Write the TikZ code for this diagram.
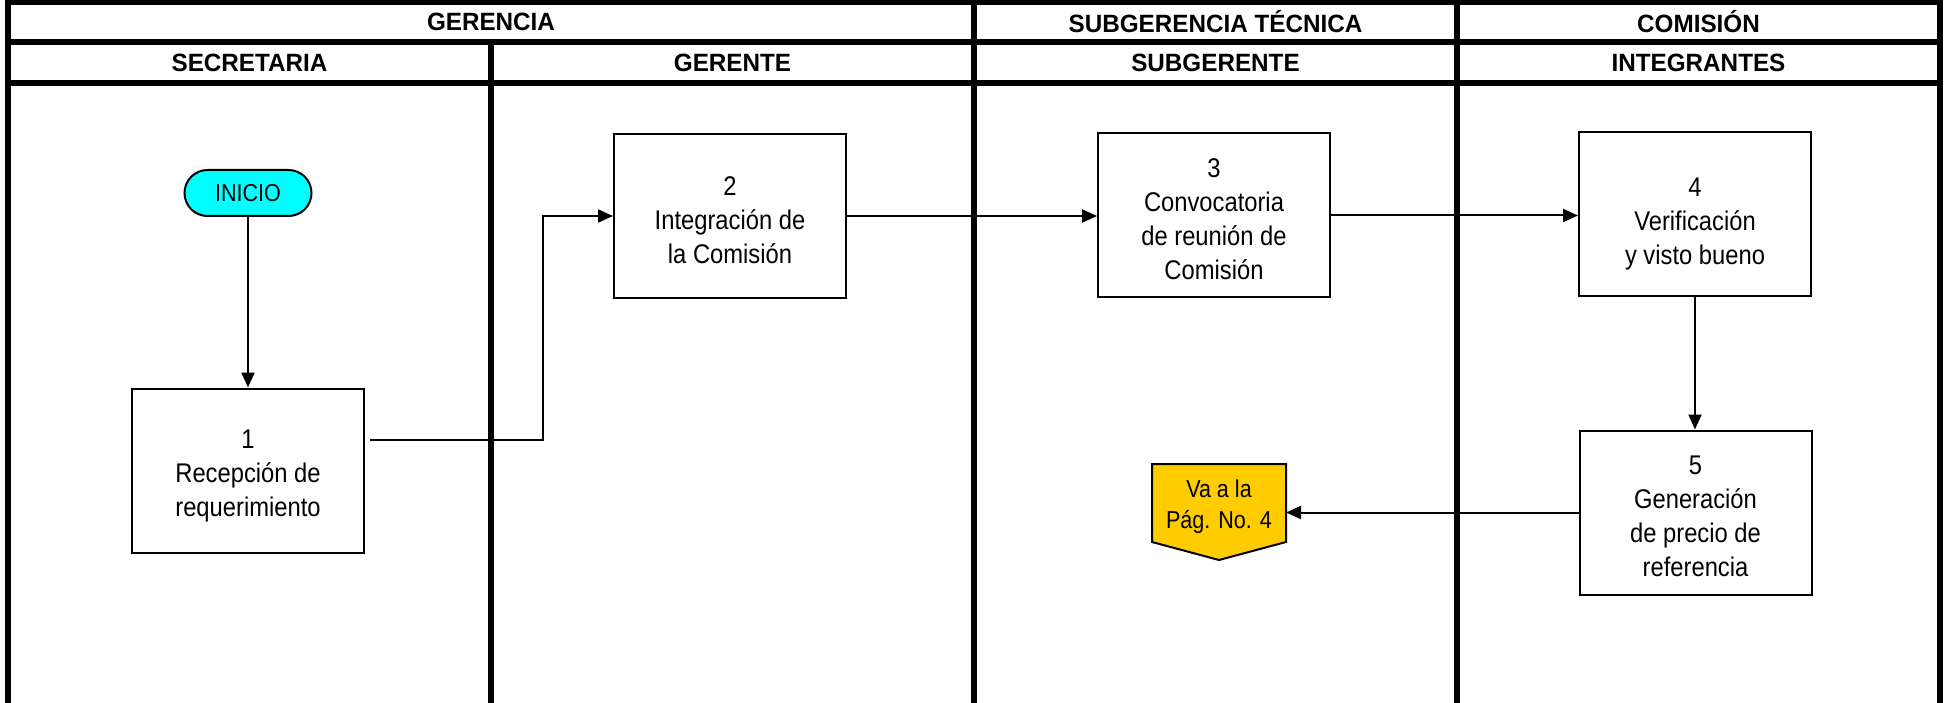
\documentclass[tikz,border=0pt]{standalone}
\usepackage{fontspec}
\setmainfont{Liberation Sans}[FakeStretch=0.88]
\newfontfamily\hdrfamily{Liberation Sans}[FakeStretch=0.97]
\usetikzlibrary{arrows.meta}
\definecolor{inicyan}{HTML}{00FFFF}
\definecolor{conngold}{HTML}{FFCC00}
\newcommand{\boxfont}{\fontsize{27}{34}\selectfont}
\newcommand{\smallfont}{\fontsize{24.5}{31}\selectfont}
\newcommand{\hdrfont}{\hdrfamily\bfseries\fontsize{25}{30}\selectfont}
\begin{document}
\begin{tikzpicture}[x=1pt,y=-1pt,
  lane/.style={line width=6pt},
  hdr/.style={font=\hdrfont, inner sep=0pt},
  stepbox/.style={draw, line width=2pt, minimum width=232pt, minimum height=164pt, inner sep=0pt},
  steptext/.style={align=center, inner sep=0pt, font=\boxfont},
  arr/.style={line width=2pt, -{Triangle[length=15pt,width=13pt]}}]
\useasboundingbox (0,0) rectangle (1944,703);
% lanes
\draw[lane] (8,703) -- (8,2) -- (1940,2) -- (1940,703);
\draw[lane] (8,42) -- (1940,42);
\draw[lane] (8,83) -- (1940,83);
\draw[lane] (491,42) -- (491,703);
\draw[lane] (974,2) -- (974,703);
\draw[lane] (1457,2) -- (1457,703);
% headers
\node[hdr] (hGer) at (491,22) {GERENCIA};
\node[hdr] (hSub) at (1215.5,22) {SUBGERENCIA TÉCNICA};
\node[hdr] (hCom) at (1698.5,22) {COMISIÓN};
\node[hdr] (hSec) at (249.5,62.5) {SECRETARIA};
\node[hdr] (hGte) at (732.5,62.5) {GERENTE};
\node[hdr] (hSbg) at (1215.5,62.5) {SUBGERENTE};
\node[hdr] (hInt) at (1698.5,62.5) {INTEGRANTES};
% nodes
\node[draw, line width=2pt, fill=inicyan, rounded corners=23pt, minimum width=127pt, minimum height=46pt, inner sep=0pt, font=\smallfont] (ini) at (248,193) {INICIO};
\node[stepbox] (b1) at (248,470.5) {};
\node[steptext] (b1t) at ([yshift=-6pt]b1.center) {1\\Recepción de\\requerimiento};
\node[stepbox] (b2) at (730,216) {};
\node[steptext] (b2t) at ([yshift=-4pt]b2.center) {2\\Integración de\\la Comisión};
\node[stepbox] (b3) at (1214,215.5) {};
\node[steptext] (b3t) at ([yshift=-4pt]b3.center) {3\\Convocatoria\\de reunión de\\Comisión};
\node[stepbox] (b4) at (1695,214) {};
\node[steptext] (b4t) at ([yshift=-10pt]b4.center) {4\\Verificación\\y visto bueno};
\node[stepbox] (b5) at (1695.5,512.5) {};
\node[steptext] (b5t) at ([yshift=-4pt]b5.center) {5\\Generación\\de precio de\\referencia};
% off-page connector
\coordinate (va) at (1219,503);
\path (va) +(-67,-39) coordinate (vaNW) +(67,-39) coordinate (vaNE) +(67,39) coordinate (vaSE) +(0,57) coordinate (vaS) +(-67,39) coordinate (vaSW) +(67,9) coordinate (vaE);
\draw[line width=2pt, line join=miter, fill=conngold] (vaNW) -- (vaNE) -- (vaSE) -- (vaS) -- (vaSW) -- cycle;
\node[align=center, inner sep=0pt, font=\smallfont] (vat) at ([yshift=-4pt]va) {Va a la\\Pág. No. 4};
% connectors
\coordinate (s1) at ([xshift=5pt,yshift=30.5pt]b1.east);
\coordinate (j1) at (543,0);
\draw[arr] (ini.south) -- (b1.north);
\draw[arr] (s1) -- (s1 -| j1) |- (b2.west);
\draw[arr] (b2.east) -- (b2.east -| b3.west);
\draw[arr] (b3.east) -- (b3.east -| b4.west);
\draw[arr] (b4.south) -- (b4.south |- b5.north);
\draw[arr] (b5.west) -- (b5.west -| vaE);
\end{tikzpicture}
\end{document}
